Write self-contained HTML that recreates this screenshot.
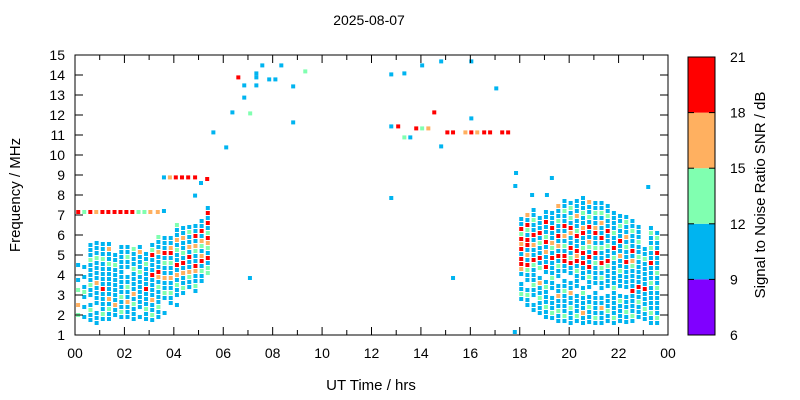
<!DOCTYPE html>
<html><head><meta charset="utf-8"><style>
body{margin:0;background:#fff;}
svg{display:block;font-family:"Liberation Sans",sans-serif;}
</style></head><body>
<svg id="chart" width="800" height="400" xmlns="http://www.w3.org/2000/svg">
<text x="369" y="25" font-size="14" text-anchor="middle">2025-08-07</text>
<text x="371" y="390" font-size="15" text-anchor="middle">UT Time / hrs</text>
<text x="20" y="195" font-size="15" text-anchor="middle" transform="rotate(-90 20 195)">Frequency / MHz</text>
<text x="765" y="195" font-size="15" text-anchor="middle" transform="rotate(-90 765 195)">Signal to Noise Ratio SNR / dB</text>
<g id="marks"></g>
<g id="axes"></g>
<g id="cbar"></g>
</svg>
<script>
// ---- data ----
const xTickLabels=["00","02","04","06","08","10","12","14","16","18","20","22","00"];
const yTicks=[1,2,3,4,5,6,7,8,9,10,11,12,13,14,15];
const cbTicks=[6,9,12,15,18,21];
const cbColors=["#8000ff","#00b4f0","#80ffb0","#ffb060","#ff0000"];
// char code -> SNR dB
const snrCode={b:10.5,g:13.5,o:16.5,r:19.5};
// column scans: time (hr), lowest freq (MHz), SNR code per 0.25 MHz step upward
const colT=[0.125,0.375,0.625,0.875,1.125,1.375,1.625,1.875,2.125,2.375,2.625,2.875,3.125,3.375,3.625,3.875,4.125,4.375,4.625,4.875,5.125,5.375,
18.06,18.31,18.56,18.81,19.06,19.31,19.56,19.81,20.06,20.31,20.56,20.81,21.06,21.31,21.56,21.81,22.06,22.31,22.56,22.81,23.06,23.31,23.56];
const colLo=[2.0,1.9,1.75,1.6,1.8,1.8,2.0,1.9,1.9,1.8,1.9,1.8,1.75,1.9,2.1,2.6,2.5,3.1,3.4,3.2,3.7,4.1,
2.8,2.5,2.25,2.1,1.9,1.85,1.7,1.7,1.6,1.7,1.6,1.65,1.6,1.6,1.7,1.6,1.7,1.65,1.7,1.9,1.8,1.6,1.6];
const colS=["g.o..g.b..b","b.b.bgb.b.b","bbgb.bbgbbbbgbbb","bbb.bbbbobbbbgbbb","bgbbbbrbbbbbgbbb","bbgbobbbbbbgbbob","bbobbbbbbbgbb","bgbbgbbbbbbbbbb","bbbobbgbb.bbgbb","bbbgbobbbbgbbbg","b.bbbbbbbgbbbob","bbgbbbrbbbbgbb.","bgbbobbbbrbbbrgb","bbgbbbgborbbbobbg","b..bgbbobbgbrbbb","bbgbbobbgbrobb","b.bbgbobrbbgbobbg","bgbbobrbgbbobb","bbgobbrbobbgb","bgbborbbgobrbb","bbgbrobgobrbb","ggbrbgorgbrbrb",
"bgbb.borrbrorgrbb","bbgb.bbgrbobrrbgrbo","bb.bbgbbbgrbbobrbbgbb","bbbgbbob.gbrbbgbrbbb","bbgbbbgb.brbbobrgbbrbb","bgbbb.bbgbbbrbgobbrbbb","bbgbbobb.bbgbrbobrbbgbbo","bgbbbbgbb.bbrrbgbobrbbgbb","bbbgbbobb.bbrgbrbborbgbgb","bgbbbb.bbbgbrorbbrgbbobbb","bbobbbgb.bbbrbrgbbrobbgbbb","bbbgbb.bbgbrbrbgobbrbgbbo","bgbbbbb.bbbbgbrgbbrobbgbb","bbbobb.bbgbgrbbgbrbbobgbb","bbgbbb.bbbbgrbbgbbrbbgbb","bgbbbbbgbbbbbgbrbbgbbbb","bbbbgb.bbbgbbobbrbbgbb","bbgbbb.bbbbbrbbgbobbgb","bgbbbbrbbbbgobrbbbgbb","bbbgbbrbbbbbgbbgbbb","bbgbbbrbbbbbgbb","bbgbbbbbgbbbrbbgbbgb","bgbbbbbgbbgbbbrbbgb","bobbgbbrbbgbbrbbgb"];
// isolated points: time (hr), freq (MHz), SNR (dB)
const ptT=[0.13,0.375,0.62,0.86,1.11,1.35,1.6,1.84,2.08,2.32,2.57,2.81,3.05,3.35,3.6,3.6,3.84,4.08,4.33,4.58,4.86,5.35,5.1,4.86,5.6,6.12,6.37,6.61,6.85,6.85,7.09,7.34,7.34,7.34,7.58,7.86,8.11,8.35,8.83,8.83,9.32,7.08,
12.8,12.8,12.8,13.08,13.33,13.33,13.57,13.81,14.05,14.05,14.3,14.54,14.82,14.82,15.07,15.3,15.3,15.8,16.04,16.04,16.04,16.28,16.56,16.8,17.05,17.29,17.53,17.85,17.82,17.8,18.5,19.1,19.3,23.2];
const ptF=[7.15,7.15,7.15,7.15,7.15,7.15,7.15,7.15,7.15,7.15,7.15,7.15,7.15,7.15,7.2,8.88,8.88,8.88,8.88,8.88,8.88,8.8,8.6,7.97,11.13,10.38,12.13,13.88,13.48,12.87,12.08,14.08,13.88,13.48,14.48,13.78,13.78,14.48,13.43,11.63,14.18,3.85,
14.03,11.43,7.85,11.43,14.08,10.88,10.88,11.33,14.48,11.33,11.33,12.13,14.68,10.43,11.13,11.13,3.85,11.13,14.68,11.83,11.13,11.13,11.13,11.13,13.33,11.13,11.13,9.1,8.45,1.15,8.0,8.0,8.85,8.4];
const ptS=[19.5,13.5,19.5,16.5,19.5,19.5,19.5,19.5,19.5,19.5,13.5,13.5,16.5,16.5,10.5,10.5,16.5,19.5,19.5,19.5,19.5,19.5,10.5,10.5,10.5,10.5,10.5,19.5,10.5,10.5,13.5,10.5,10.5,10.5,10.5,10.5,10.5,10.5,10.5,10.5,13.5,10.5,
10.5,10.5,10.5,19.5,10.5,13.5,10.5,19.5,10.5,13.5,16.5,19.5,10.5,10.5,19.5,19.5,10.5,16.5,10.5,10.5,19.5,16.5,19.5,19.5,10.5,19.5,19.5,10.5,10.5,10.5,10.5,10.5,10.5,10.5];

// ---- scales ----
const X0=75,X1=668,Y0=335,Y1=55;
const xs=t=>X0+(t/24)*(X1-X0);
const ys=f=>Y0-(f-1)/14*(Y0-Y1);
const col=s=>cbColors[Math.max(0,Math.min(4,Math.floor((s-6)/3)))];
const NS="http://www.w3.org/2000/svg";
function mk(tag,attrs,parent){const e=document.createElementNS(NS,tag);for(const k in attrs)e.setAttribute(k,attrs[k]);parent.appendChild(e);return e;}
const marks=document.getElementById('marks');
for(let c=0;c<colT.length;c++){
  const s=colS[c];
  for(let i=0;i<s.length;i++){
    const ch=s[i]; if(!(ch in snrCode)) continue;
    const f=colLo[c]+i*0.25;
    const r=mk('rect',{x:xs(colT[c])-2,y:ys(f)-2,width:4,height:4,fill:col(snrCode[ch])},marks);
    
    
  }
}
for(let i=0;i<ptT.length;i++){
  const r=mk('rect',{x:xs(ptT[i])-2,y:ys(ptF[i])-2,width:4,height:4,fill:col(ptS[i])},marks);
  
  
}
// ---- axes ----
const ax=document.getElementById('axes');
mk('rect',{x:X0,y:Y1,width:X1-X0,height:Y0-Y1,fill:'none',stroke:'#000','stroke-width':1},ax);
for(let h=0;h<=24;h++){
  const x=xs(h);const L=h%2==0?8:5;
  mk('line',{x1:x,y1:Y0,x2:x,y2:Y0-L,stroke:'#000'},ax);
  mk('line',{x1:x,y1:Y1,x2:x,y2:Y1+L,stroke:'#000'},ax);
}
xTickLabels.forEach((l,i)=>{const t=mk('text',{x:xs(i*2),y:358,'font-size':14,'text-anchor':'middle'},ax);t.textContent=l;

});
yTicks.forEach(v=>{const y=ys(v);
  mk('line',{x1:X0,y1:y,x2:X0+8,y2:y,stroke:'#000'},ax);
  mk('line',{x1:X1,y1:y,x2:X1-8,y2:y,stroke:'#000'},ax);
  const t=mk('text',{x:X0-10,y:y+5,'font-size':14,'text-anchor':'end'},ax);t.textContent=v;
  
  });
// ---- colorbar ----
const cb=document.getElementById('cbar');
const CX=688,CW=27,CT=57,CB=335;
const cy=v=>CB-(v-6)/15*(CB-CT);
for(let i=0;i<5;i++){
  const r=mk('rect',{x:CX,y:cy(6+3*(i+1)),width:CW,height:cy(6+3*i)-cy(6+3*(i+1)),fill:cbColors[i]},cb);
  
  
}
mk('rect',{x:CX,y:CT,width:CW,height:CB-CT,fill:'none',stroke:'#000'},cb);
cbTicks.forEach(v=>{const y=cy(v);
  mk('line',{x1:CX+CW-6,y1:y,x2:CX+CW,y2:y,stroke:'#000'},cb);
  mk('line',{x1:CX,y1:y,x2:CX+6,y2:y,stroke:'#000'},cb);
  const t=mk('text',{x:CX+CW+15,y:y+5,'font-size':14},cb);t.textContent=v;
  
  });
</script>
</body></html>
